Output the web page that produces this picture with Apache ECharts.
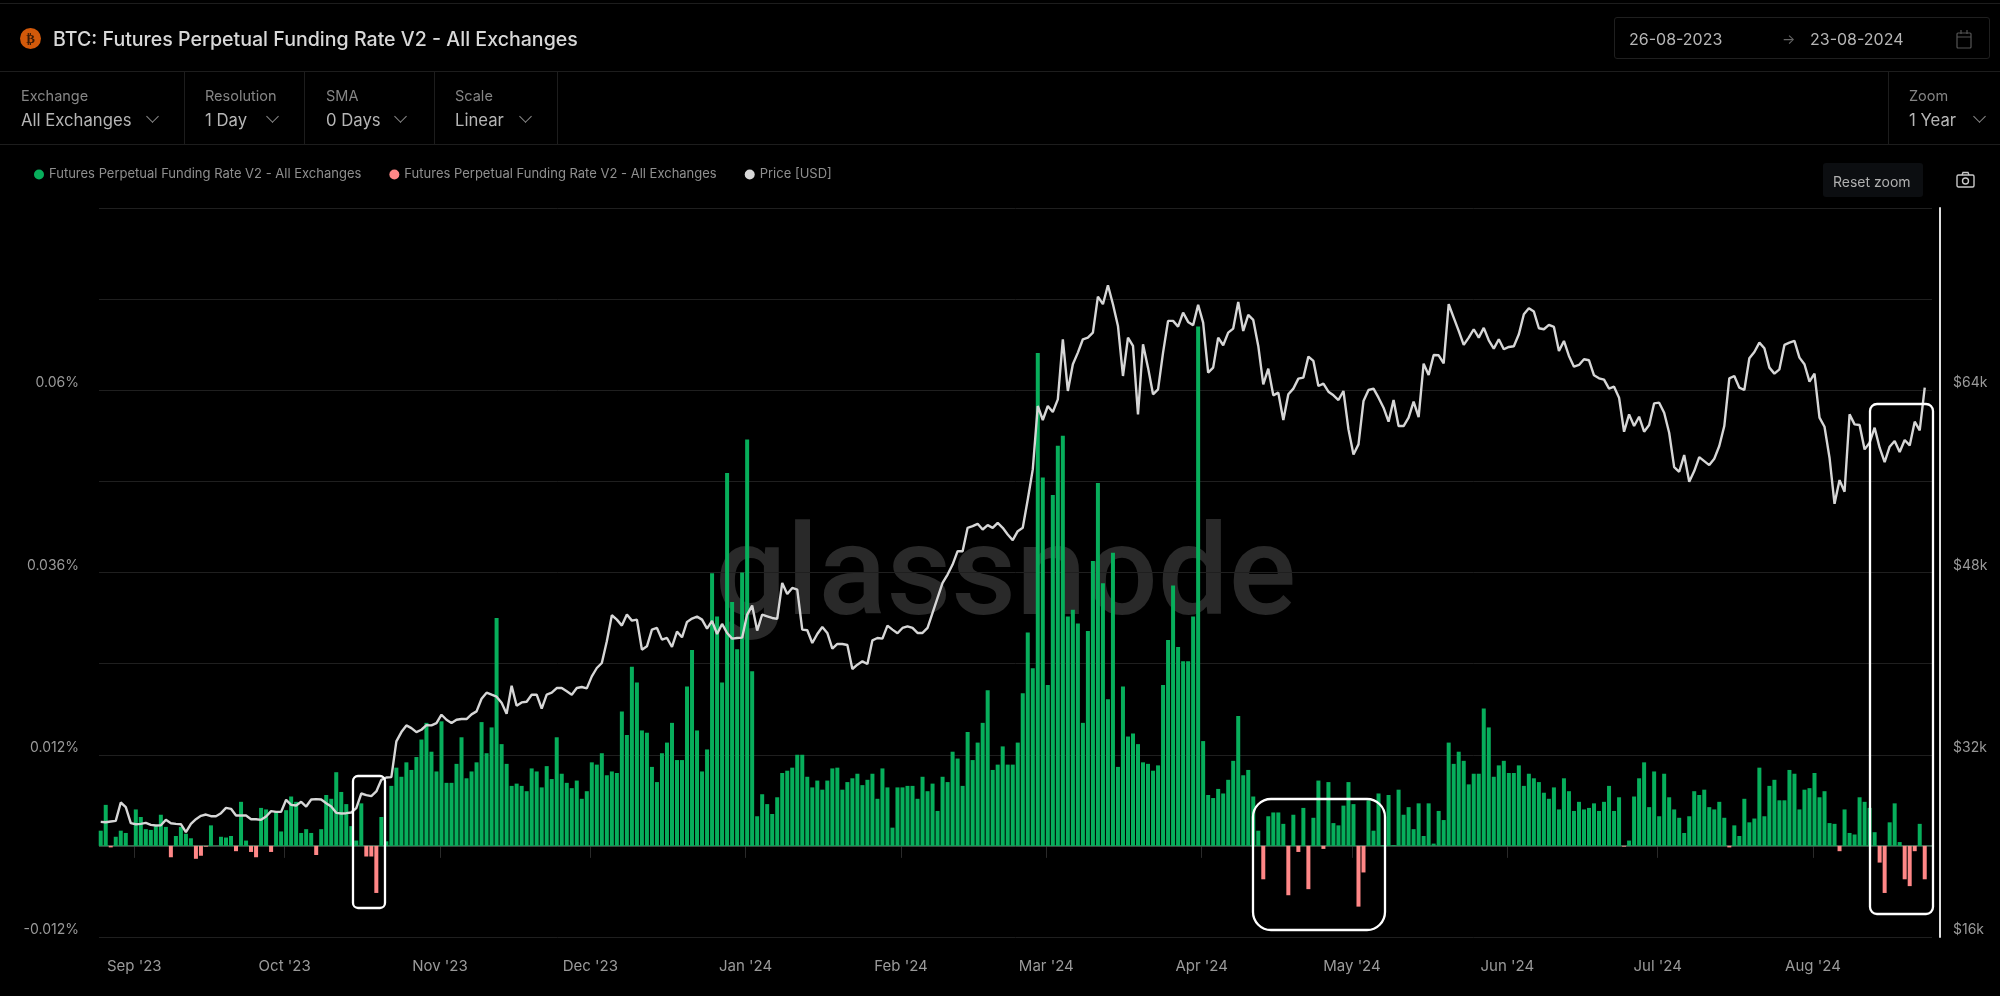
<!DOCTYPE html>
<html>
<head>
<meta charset="utf-8">
<title>BTC: Futures Perpetual Funding Rate V2 - All Exchanges</title>
<script src="https://cdn.jsdelivr.net/npm/echarts@6/dist/echarts.min.js"></script>
<style>
  html, body { margin: 0; width: 2000px; height: 996px; background: #000; overflow: hidden; font-family: Inter, sans-serif; }
  #chart { position: absolute; left: 0; top: 0; width: 2000px; height: 996px; }
  .t { position: absolute; white-space: nowrap; line-height: 20px; }
  .lab { font-size: 14.5px; color: #858585; }
  .val { font-size: 16.7px; color: #b5b5b5; }
  .date { font-size: 16px; color: #b5b5b5; }
  .hl { position: absolute; left: 0; width: 2000px; height: 1px; background: #1d1d1d; }
  .vl { position: absolute; top: 72px; width: 1px; height: 72px; background: #1d1d1d; }
  .chev { position: absolute; top: 112px; width: 8px; height: 8px; border-right: 1px solid #8c8c8c; border-bottom: 1px solid #8c8c8c; transform: rotate(45deg); }
</style>
</head>
<body>
<div id="chart"></div>

<div class="hl" style="top:3px"></div>
<div class="hl" style="top:71px"></div>
<div class="hl" style="top:144px"></div>

<div style="position:absolute;left:20px;top:28px;width:21px;height:21px;border-radius:50%;background:#d2590a;color:#3a1a05;font:bold 13px/21px 'DejaVu Sans';text-align:center">₿</div>
<div class="t" style="left:53px;top:28px;font-size:19.6px;line-height:22px;font-weight:500;color:#d8d8d8">BTC: Futures Perpetual Funding Rate V2 - All Exchanges</div>

<div style="position:absolute;left:1614px;top:17px;width:374px;height:40px;border:1px solid #1f1f1f;border-radius:3px"></div>
<div class="t date" style="left:1629px;top:29px">26-08-2023</div>
<div class="t" style="left:1782px;top:29px;font-size:14px;color:#666">→</div>
<div class="t date" style="left:1810px;top:29px">23-08-2024</div>
<svg style="position:absolute;left:1956px;top:29px" width="16" height="20" fill="none" stroke="#555" stroke-width="1.2"><rect x="1" y="4" width="14" height="15" rx="1"/><path d="M1 8h14M5 1v4M11 1v4"/></svg>

<div class="vl" style="left:184px"></div>
<div class="vl" style="left:304px"></div>
<div class="vl" style="left:434px"></div>
<div class="vl" style="left:557px"></div>
<div class="vl" style="left:1888px"></div>

<div class="t lab" style="left:21px;top:86px">Exchange</div>
<div class="t val" style="left:21px;top:110px">All Exchanges</div>
<div class="chev" style="left:148px"></div>
<div class="t lab" style="left:205px;top:86px">Resolution</div>
<div class="t val" style="left:205px;top:110px">1 Day</div>
<div class="chev" style="left:268px"></div>
<div class="t lab" style="left:326px;top:86px">SMA</div>
<div class="t val" style="left:326px;top:110px">0 Days</div>
<div class="chev" style="left:396px"></div>
<div class="t lab" style="left:455px;top:86px">Scale</div>
<div class="t val" style="left:455px;top:110px">Linear</div>
<div class="chev" style="left:521px"></div>
<div class="t lab" style="left:1909px;top:86px">Zoom</div>
<div class="t val" style="left:1909px;top:110px">1 Year</div>
<div class="chev" style="left:1975px"></div>

<div style="position:absolute;left:1823px;top:163px;width:100px;height:34px;background:#0c0e11;border-radius:3px"></div>
<div class="t" style="left:1833px;top:172px;font-size:14px;color:#b0b0b0">Reset zoom</div>
<svg style="position:absolute;left:1956px;top:171px" width="19" height="18" fill="none" stroke="#c8c8c8" stroke-width="1.4"><rect x="1" y="4" width="17" height="12" rx="1.5"/><circle cx="9.5" cy="10" r="3"/><path d="M6 4l1-2.5h5L13 4"/></svg>

<script>
// funding rate per day, in units of 0.0001 %
const fundingRate = [
  20, 54, -2, 12, 20, 17, 0, 48, 38, 22, 21, 26, 41, 25, -15, 13, 25, 16, 10, -17,
  -13, -1, 27, 0, 12, 11, 13, -7, 58, 7, -8, -15, 50, 48, -8, 45, 19, 47, 65, 58,
  17, 22, 17, -12, 22, 67, 62, 97, 71, 55, 26, 7, 56, -14, -14, -62, 38, 6, 79, 103,
  91, 110, 100, 117, 140, 162, 124, 98, 164, 83, 83, 108, 143, 89, 98, 110, 163, 122, 156, 300,
  134, 108, 79, 82, 79, 72, 102, 98, 77, 105, 88, 143, 95, 83, 76, 86, 62, 72, 110, 107,
  122, 93, 98, 96, 177, 146, 236, 215, 152, 149, 104, 84, 122, 136, 162, 113, 113, 210, 258, 152,
  98, 127, 359, 302, 215, 491, 321, 259, 360, 535, 230, 39, 68, 55, 42, 64, 96, 99, 103, 120,
  120, 91, 77, 86, 74, 86, 102, 103, 74, 84, 89, 95, 80, 87, 95, 62, 102, 77, 24, 77,
  77, 79, 79, 62, 91, 72, 82, 46, 91, 84, 124, 115, 79, 150, 113, 136, 162, 205, 100, 107,
  131, 107, 107, 136, 201, 281, 234, 649, 485, 212, 462, 527, 540, 302, 311, 293, 162, 283, 375, 478,
  346, 193, 386, 104, 210, 144, 148, 134, 110, 108, 99, 106, 212, 271, 343, 262, 243, 243, 302, 684,
  138, 67, 63, 75, 69, 87, 112, 171, 93, 100, 65, 20, -44, 39, 44, 44, 29, -65, 41, -8,
  50, -57, 37, 86, -4, 84, 30, 27, 53, 84, 55, -80, -35, 60, 20, 69, 1, 67, 1, 74,
  41, 51, 22, 56, 13, 56, 3, 46, 34, 136, 108, 124, 112, 81, 95, 95, 181, 156, 91, 106,
  112, 96, 96, 106, 79, 95, 89, 84, 70, 62, 77, 48, 89, 72, 46, 58, 48, 50, 56, 46,
  58, 79, 46, 64, -1, 7, 65, 89, 110, 51, 98, 39, 95, 64, 48, 37, 17, 39, 72, 67,
  74, 51, 48, 58, 37, -2, 27, 13, 62, 31, 36, 103, 39, 79, 87, 60, 60, 100, 95, 48,
  74, 76, 96, 64, 72, 30, 29, -7, 48, 17, 15, 64, 58, 50, 18, -22, -62, 31, 56, 5,
  -44, -53, -7, 29, -44
];

// BTC price per day, USD
const priceUsd = [
  26108, 26079, 26137, 26196, 27808, 27397, 25991, 25903, 25932, 26020, 25844, 25786, 25815, 26284, 25991, 25932, 25903, 25200, 25932, 26343,
  26636, 26753, 26606, 26606, 26870, 27339, 27251, 26665, 26665, 26665, 26343, 26343, 26284, 26577, 27046, 26987, 26987, 28042, 27603, 27544,
  27866, 27456, 28071, 28101, 28071, 27749, 27456, 26899, 26841, 26870, 26929, 27310, 28599, 28452, 28364, 28775, 29800, 30005, 30035, 33169,
  33990, 34576, 34342, 33990, 34195, 34605, 34576, 34781, 35513, 35074, 34781, 35074, 35133, 35133, 35543, 35807, 36920, 37447, 37271, 37096,
  36569, 35602, 38063, 36305, 36595, 36657, 37272, 37272, 36041, 37272, 37448, 37857, 37857, 37564, 37271, 37857, 37945, 37828, 38883, 39616,
  40055, 41960, 44245, 43864, 43337, 44304, 43776, 43864, 41227, 41520, 42985, 43131, 42106, 42252, 41461, 42809, 42311, 43659, 43952, 44128,
  43864, 43073, 43747, 42604, 43483, 42692, 42194, 42252, 42282, 44304, 45095, 42897, 44304, 44157, 44010, 43923, 47087, 46120, 46647, 46501,
  42985, 42926, 41813, 42604, 43219, 42692, 41315, 41725, 41725, 41637, 39528, 39908, 40202, 39968, 42047, 42252, 42194, 43337, 42985, 42663,
  43131, 43278, 43132, 42692, 42692, 43132, 44450, 45769, 47087, 47820, 48698, 49871, 49871, 51922, 52068, 52273, 51775, 52156, 51922, 52361,
  51922, 51336, 50837, 51628, 51922, 54412, 57049, 62616, 61386, 62616, 62089, 63202, 68476, 63935, 66279, 67304, 68476, 68623, 69062, 72226,
  71553, 73223, 71553, 69648, 65253, 68623, 67890, 61884, 68037, 65986, 63642, 64081, 67304, 70088, 70088, 69589, 70820, 70000, 69707, 71494,
  69941, 65546, 65986, 68623, 67949, 69062, 69414, 71758, 69208, 70615, 70175, 67890, 64521, 65898, 63553, 63788, 61386, 63642, 64140, 65019,
  65107, 66953, 66572, 64374, 64579, 63876, 63553, 63143, 63935, 60565, 58367, 59246, 63055, 64022, 64140, 63349, 62470, 61239, 63143, 60858,
  60858, 61591, 62997, 61649, 66337, 65341, 67099, 67070, 66366, 71553, 70381, 69208, 67978, 68623, 69355, 68623, 69472, 68388, 67656, 68476,
  67597, 67802, 67861, 68916, 70673, 71201, 70908, 69443, 69355, 69736, 69560, 67450, 68330, 67011, 66073, 66220, 66718, 66630, 65311, 65048,
  64931, 64140, 64316, 63349, 60360, 61884, 60858, 61678, 60360, 60946, 62850, 62909, 62030, 60272, 57254, 56844, 58309, 55965, 56903, 58133,
  57781, 57430, 57987, 59100, 60858, 65048, 65253, 64228, 64022, 66806, 67363, 68183, 67685, 65986, 65458, 65839, 67978, 68183, 68330, 66865,
  66279, 64755, 65458, 61591, 60799, 58075, 54031, 56111, 55086, 61884, 61004, 60946, 58807, 59393, 60711, 58954, 57694, 59041, 59540, 58573,
  59628, 59159, 61239, 60477, 64228
];

const monthTicks = [
  Date.UTC(2023, 8, 1), Date.UTC(2023, 9, 1), Date.UTC(2023, 10, 1), Date.UTC(2023, 11, 1),
  Date.UTC(2024, 0, 1), Date.UTC(2024, 1, 1), Date.UTC(2024, 2, 1), Date.UTC(2024, 3, 1),
  Date.UTC(2024, 4, 1), Date.UTC(2024, 5, 1), Date.UTC(2024, 6, 1), Date.UTC(2024, 7, 1)
];
const monthLabels = ["Sep '23", "Oct '23", "Nov '23", "Dec '23", "Jan '24", "Feb '24", "Mar '24", "Apr '24", "May '24", "Jun '24", "Jul '24", "Aug '24"];
const fundingTickLabels = { '-120': '-0.012%', '120': '0.012%', '360': '0.036%', '600': '0.06%' };
const priceTickLabels = { '16000': '$16k', '32000': '$32k', '48000': '$48k', '64000': '$64k' };

const DAY = 86400000;
const firstBar = Date.UTC(2023, 7, 25) + 0.3 * DAY;
const days = fundingRate.map((v, i) => firstBar + i * DAY);
const xMin = monthTicks[0] - 7.044 * DAY;
const xMax = monthTicks[0] + 358.75 * DAY;

const FUNDING_NAME = 'Futures Perpetual Funding Rate V2 - All Exchanges';
const axisText = { color: '#9a9a9a', fontSize: 14, fontFamily: 'Inter' };

const chart = echarts.init(document.getElementById('chart'));
chart.setOption({
  backgroundColor: 'transparent',
  animation: false,
  legend: {
    left: 29, top: 163, itemWidth: 10, itemHeight: 10, itemGap: 28, icon: 'circle',
    textStyle: { color: '#8f8f8f', fontSize: 13, fontFamily: 'Inter' },
    // the second name only differs by a zero width space, echarts merges equal names
    data: [FUNDING_NAME, FUNDING_NAME + '\u200b', 'Price [USD]']
  },
  grid: { left: 99, right: 68, top: 208, bottom: 59 },
  xAxis: {
    // timestamps on a value axis, a time axis breaks on customValues here
    type: 'value',
    min: xMin,
    max: xMax,
    axisLine: { show: false },
    splitLine: { show: false },
    axisTick: { show: true, customValues: monthTicks, length: 12, lineStyle: { color: '#2a2a2a' } },
    axisLabel: {
      ...axisText,
      fontSize: 15,
      customValues: monthTicks,
      margin: 22,
      formatter: v => monthLabels[monthTicks.indexOf(v)]
    }
  },
  yAxis: [
    {
      type: 'value', min: -120, max: 840, interval: 120,
      axisLine: { show: false }, axisTick: { show: false },
      splitLine: { lineStyle: { color: '#1f1f1f', width: 1 } },
      axisLabel: { ...axisText, margin: 20, verticalAlign: 'bottom', formatter: v => fundingTickLabels[v] || '' }
    },
    {
      type: 'value', min: 16000, max: 80000, interval: 16000, position: 'right', offset: 8,
      axisLine: { show: true, lineStyle: { color: '#dedede', width: 2 } },
      axisTick: { show: false }, splitLine: { show: false },
      axisLabel: { ...axisText, margin: 13, verticalAlign: 'bottom', formatter: v => priceTickLabels[v] || '' }
    }
  ],
  series: [
    {
      // zero line, stays under the bars so it only shows in the gaps
      type: 'line', z: 1, silent: true, showSymbol: false,
      lineStyle: { color: '#5f9c7c', width: 1 },
      data: [[xMin, 0], [xMax, 0]]
    },
    {
      name: FUNDING_NAME, type: 'bar', barWidth: 4, barGap: '-100%',
      itemStyle: { color: '#07ae5b' },
      data: days.map((d, i) => [d, fundingRate[i] >= 0 ? fundingRate[i] : null])
    },
    {
      name: FUNDING_NAME + '\u200b', type: 'bar', barWidth: 4, barGap: '-100%',
      itemStyle: { color: '#ff8787' },
      data: days.map((d, i) => [d, fundingRate[i] < 0 ? fundingRate[i] : null])
    },
    {
      name: 'Price [USD]', type: 'line', yAxisIndex: 1, showSymbol: false, z: 5,
      itemStyle: { color: '#d8d8d8' },
      lineStyle: { color: '#d6d6d6', width: 2.4 },
      data: days.map((d, i) => [d, priceUsd[i]])
    }
  ],
  graphic: [
    {
      type: 'text', left: 715, top: 519, z: -1, silent: true,
      style: { text: 'glassnode', fill: '#292929', font: '500 126px Roboto' }
    },
    // hand drawn highlight boxes of the reference
    { type: 'rect', z: 20, silent: true, shape: { x: 353, y: 776, width: 32, height: 132, r: 5 }, style: { fill: 'none', stroke: '#fff', lineWidth: 2.3 } },
    { type: 'rect', z: 20, silent: true, shape: { x: 1253, y: 799, width: 132, height: 131, r: 18 }, style: { fill: 'none', stroke: '#fff', lineWidth: 2.3 } },
    { type: 'rect', z: 20, silent: true, shape: { x: 1870, y: 404, width: 63, height: 510, r: 7 }, style: { fill: 'none', stroke: '#fff', lineWidth: 2.3 } }
  ]
});
</script>
</body>
</html>
